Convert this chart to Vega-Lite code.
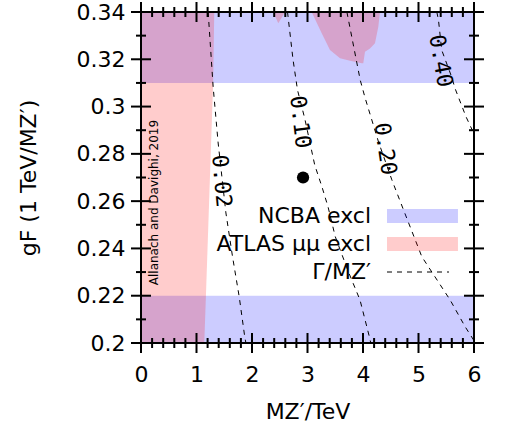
{
  "$schema": "https://vega.github.io/schema/vega-lite/v6.json",
  "width": 333,
  "height": 331,
  "autosize": {"type": "none"},
  "padding": {"left": 141, "top": 12, "right": 31, "bottom": 87},
  "background": "white",
  "config": {"view": {"stroke": null}, "font": "DejaVu Sans"},
  "datasets": {
    "ncba": [
      {"m0": 0, "m1": 6, "g0": 0.31, "g1": 0.34},
      {"m0": 0, "m1": 6, "g0": 0.2, "g1": 0.22}
    ],
    "atlas": [
      {"g": 0.2, "m": 1.14},
      {"g": 0.22, "m": 1.17},
      {"g": 0.31, "m": 1.30},
      {"g": 0.34, "m": 1.32}
    ],
    "blobs": [
      {"blob": "a", "m": 2.38, "g": 0.34},
      {"blob": "a", "m": 2.474, "g": 0.3352},
      {"blob": "a", "m": 2.595, "g": 0.34},
      {"blob": "b", "m": 3.075, "g": 0.34},
      {"blob": "b", "m": 3.256, "g": 0.331},
      {"blob": "b", "m": 3.405, "g": 0.3239},
      {"blob": "b", "m": 3.586, "g": 0.3204},
      {"blob": "b", "m": 3.766, "g": 0.3194},
      {"blob": "b", "m": 3.977, "g": 0.3183},
      {"blob": "b", "m": 4.005, "g": 0.3183},
      {"blob": "b", "m": 4.036, "g": 0.3232},
      {"blob": "b", "m": 4.126, "g": 0.3246},
      {"blob": "b", "m": 4.216, "g": 0.3268},
      {"blob": "b", "m": 4.276, "g": 0.3338},
      {"blob": "b", "m": 4.306, "g": 0.34}
    ],
    "contours": [
      {"level": "0.02", "m": 1.21, "g": 0.34},
      {"level": "0.02", "m": 1.30, "g": 0.3083},
      {"level": "0.02", "m": 1.39, "g": 0.2846},
      {"level": "0.02", "m": 1.53, "g": 0.255},
      {"level": "0.02", "m": 1.65, "g": 0.2364},
      {"level": "0.02", "m": 1.77, "g": 0.2195},
      {"level": "0.02", "m": 1.87, "g": 0.2025},
      {"level": "0.02", "m": 1.89, "g": 0.2},
      {"level": "0.10", "m": 2.64, "g": 0.34},
      {"level": "0.10", "m": 2.74, "g": 0.3197},
      {"level": "0.10", "m": 2.82, "g": 0.307},
      {"level": "0.10", "m": 2.95, "g": 0.295},
      {"level": "0.10", "m": 3.13, "g": 0.2753},
      {"level": "0.10", "m": 3.26, "g": 0.2661},
      {"level": "0.10", "m": 3.37, "g": 0.2576},
      {"level": "0.10", "m": 3.5, "g": 0.245},
      {"level": "0.10", "m": 3.73, "g": 0.2305},
      {"level": "0.10", "m": 3.946, "g": 0.2182},
      {"level": "0.10", "m": 4.114, "g": 0.2027},
      {"level": "0.10", "m": 4.14, "g": 0.2},
      {"level": "0.20", "m": 3.71, "g": 0.34},
      {"level": "0.20", "m": 3.95, "g": 0.3112},
      {"level": "0.20", "m": 4.04, "g": 0.3035},
      {"level": "0.20", "m": 4.28, "g": 0.285},
      {"level": "0.20", "m": 4.52, "g": 0.269},
      {"level": "0.20", "m": 4.73, "g": 0.2563},
      {"level": "0.20", "m": 5.06, "g": 0.2365},
      {"level": "0.20", "m": 5.57, "g": 0.2182},
      {"level": "0.20", "m": 5.84, "g": 0.2069},
      {"level": "0.20", "m": 6.0, "g": 0.201},
      {"level": "0.40", "m": 5.33, "g": 0.34},
      {"level": "0.40", "m": 5.36, "g": 0.3366},
      {"level": "0.40", "m": 5.418, "g": 0.3239},
      {"level": "0.40", "m": 5.598, "g": 0.3125},
      {"level": "0.40", "m": 5.658, "g": 0.3077},
      {"level": "0.40", "m": 5.856, "g": 0.2957},
      {"level": "0.40", "m": 6.0, "g": 0.2885}
    ],
    "bp": [{"m": 2.92, "g": 0.27}],
    "clabels": [
      {"label": "0.02", "m": 1.45, "g": 0.2685},
      {"label": "0.10", "m": 2.87, "g": 0.2935},
      {"label": "0.20", "m": 4.40, "g": 0.2821},
      {"label": "0.40", "m": 5.40, "g": 0.3193}
    ],
    "notes": [{"m": 0.238, "g": 0.2594, "t": "Allanach and Davighi, 2019"}],
    "xt": [
      {"v": 0, "k": "major"}, {"v": 0.2, "k": "minor"}, {"v": 0.4, "k": "minor"}, {"v": 0.6, "k": "minor"}, {"v": 0.8, "k": "minor"},
      {"v": 1, "k": "major"}, {"v": 1.2, "k": "minor"}, {"v": 1.4, "k": "minor"}, {"v": 1.6, "k": "minor"}, {"v": 1.8, "k": "minor"},
      {"v": 2, "k": "major"}, {"v": 2.2, "k": "minor"}, {"v": 2.4, "k": "minor"}, {"v": 2.6, "k": "minor"}, {"v": 2.8, "k": "minor"},
      {"v": 3, "k": "major"}, {"v": 3.2, "k": "minor"}, {"v": 3.4, "k": "minor"}, {"v": 3.6, "k": "minor"}, {"v": 3.8, "k": "minor"},
      {"v": 4, "k": "major"}, {"v": 4.2, "k": "minor"}, {"v": 4.4, "k": "minor"}, {"v": 4.6, "k": "minor"}, {"v": 4.8, "k": "minor"},
      {"v": 5, "k": "major"}, {"v": 5.2, "k": "minor"}, {"v": 5.4, "k": "minor"}, {"v": 5.6, "k": "minor"}, {"v": 5.8, "k": "minor"},
      {"v": 6, "k": "major"}
    ],
    "yt": [
      {"v": 0.2, "k": "major"}, {"v": 0.21, "k": "minor"}, {"v": 0.22, "k": "major"}, {"v": 0.23, "k": "minor"},
      {"v": 0.24, "k": "major"}, {"v": 0.25, "k": "minor"}, {"v": 0.26, "k": "major"}, {"v": 0.27, "k": "minor"},
      {"v": 0.28, "k": "major"}, {"v": 0.29, "k": "minor"}, {"v": 0.3, "k": "major"}, {"v": 0.31, "k": "minor"},
      {"v": 0.32, "k": "major"}, {"v": 0.33, "k": "minor"}, {"v": 0.34, "k": "major"}
    ],
    "frame": [{"m0": 0, "m1": 6, "g0": 0.2, "g1": 0.34}]
  },
  "resolve": {"axis": {"x": "independent", "y": "independent"}},
  "layer": [
    {
      "data": {"name": "ncba"},
      "mark": {"type": "rect", "opacity": 1},
      "encoding": {
        "x": {
          "field": "m0", "type": "quantitative",
          "scale": {"domain": [0, 6], "nice": false, "zero": false},
          "axis": {
            "orient": "bottom", "domain": false, "ticks": false,
            "values": [0, 1, 2, 3, 4, 5, 6],
            "format": "~g",
            "labelFont": "DejaVu Sans", "labelFontSize": 22, "labelColor": "black",
            "labelPadding": 21, "labelOverlap": false, "labelFlush": false,
            "title": "MZ′/TeV", "titleFont": "DejaVu Sans", "titleFontSize": 22,
            "titleFontWeight": "normal", "titleColor": "black", "titlePadding": 16,
            "grid": false
          }
        },
        "x2": {"field": "m1"},
        "y": {
          "field": "g0", "type": "quantitative",
          "scale": {"domain": [0.2, 0.34], "nice": false, "zero": false},
          "axis": {
            "orient": "left", "domain": false, "ticks": false,
            "values": [0.2, 0.22, 0.24, 0.26, 0.28, 0.3, 0.32, 0.34],
            "format": ".2~f",
            "labelFont": "DejaVu Sans", "labelFontSize": 22, "labelColor": "black",
            "labelPadding": 16, "labelOverlap": false, "labelFlush": false,
            "title": "gF (1 TeV/MZ′)", "titleFont": "DejaVu Sans", "titleFontSize": 22,
            "titleFontWeight": "normal", "titleColor": "black", "titlePadding": 36,
            "grid": false
          }
        },
        "y2": {"field": "g1"},
        "color": {
          "datum": "NCBA excl", "type": "nominal",
          "scale": {
            "domain": ["NCBA excl", "ATLAS μμ excl", "Γ/MZ′"],
            "range": ["rgba(0,0,255,0.2)", "rgba(255,0,0,0.2)", "black"]
          },
          "legend": {
            "orient": "none", "legendX": 242, "legendY": 193,
            "direction": "vertical", "title": null, "padding": 0,
            "labelFont": "DejaVu Sans", "labelFontSize": 22, "labelColor": "black",
            "labelAlign": "right", "labelOffset": -34, "labelLimit": 300,
            "symbolSize": 196, "rowPadding": 6, "symbolOpacity": 1, "symbolStrokeWidth": 1,
            "encode": {
              "symbols": {
                "update": {
                  "shape": {"signal": "datum.value === 'NCBA excl' || datum.value === 'ATLAS μμ excl' ? 'M-1,-1H9.14V1H-1Z' : 'M-1,0H7.86'"},
                  "fill": {"signal": "datum.value === 'NCBA excl' ? 'rgba(0,0,255,0.2)' : datum.value === 'ATLAS μμ excl' ? 'rgba(255,0,0,0.2)' : null"},
                  "stroke": {"signal": "datum.value === 'NCBA excl' || datum.value === 'ATLAS μμ excl' ? null : 'black'"},
                  "strokeDash": {"signal": "datum.value === 'NCBA excl' || datum.value === 'ATLAS μμ excl' ? [] : [5, 5]"},
                  "strokeWidth": {"signal": "datum.value === 'NCBA excl' || datum.value === 'ATLAS μμ excl' ? 0 : 1"},
                  "opacity": {"value": 1}
                }
              }
            }
          }
        }
      }
    },
    {
      "data": {"name": "atlas"},
      "mark": {"type": "area", "orient": "horizontal", "opacity": 1},
      "encoding": {
        "y": {"field": "g", "type": "quantitative", "scale": {"domain": [0.2, 0.34], "nice": false, "zero": false}, "axis": null},
        "x": {"field": "m", "type": "quantitative", "stack": null, "scale": {"domain": [0, 6], "nice": false, "zero": false}, "axis": null},
        "x2": {"datum": 0},
        "color": {"datum": "ATLAS μμ excl", "type": "nominal"}
      }
    },
    {
      "data": {"name": "blobs"},
      "mark": {"type": "area", "opacity": 1},
      "encoding": {
        "x": {"field": "m", "type": "quantitative", "scale": {"domain": [0, 6], "nice": false, "zero": false}, "axis": null},
        "y": {"field": "g", "type": "quantitative", "stack": null, "scale": {"domain": [0.2, 0.34], "nice": false, "zero": false}, "axis": null},
        "y2": {"datum": 0.34},
        "detail": {"field": "blob", "type": "nominal"},
        "color": {"datum": "ATLAS μμ excl", "type": "nominal"}
      }
    },
    {
      "data": {"name": "contours"},
      "mark": {"type": "line", "strokeDash": [5, 5], "strokeWidth": 1, "clip": true},
      "encoding": {
        "x": {"field": "m", "type": "quantitative", "scale": {"domain": [0, 6], "nice": false, "zero": false}, "axis": null},
        "y": {"field": "g", "type": "quantitative", "scale": {"domain": [0.2, 0.34], "nice": false, "zero": false}, "axis": null},
        "detail": {"field": "level", "type": "nominal"},
        "color": {"datum": "Γ/MZ′", "type": "nominal"}
      }
    },
    {
      "data": {"name": "xt"},
      "mark": {"type": "tick", "orient": "vertical", "thickness": 2, "color": "#000000", "opacity": 1},
      "encoding": {
        "x": {"field": "v", "type": "quantitative", "scale": {"domain": [0, 6], "nice": false, "zero": false}, "axis": null},
        "y": {"datum": 0.2, "type": "quantitative", "scale": {"domain": [0.2, 0.34], "nice": false, "zero": false}, "axis": null},
        "size": {"field": "k", "type": "nominal", "scale": {"domain": ["major", "minor"], "range": [20, 10]}, "legend": null}
      }
    },
    {
      "data": {"name": "xt"},
      "mark": {"type": "tick", "orient": "vertical", "thickness": 2, "color": "#000000", "opacity": 1},
      "encoding": {
        "x": {"field": "v", "type": "quantitative", "scale": {"domain": [0, 6], "nice": false, "zero": false}, "axis": null},
        "y": {"datum": 0.34, "type": "quantitative", "scale": {"domain": [0.2, 0.34], "nice": false, "zero": false}, "axis": null},
        "size": {"field": "k", "type": "nominal", "scale": {"domain": ["major", "minor"], "range": [20, 10]}, "legend": null}
      }
    },
    {
      "data": {"name": "yt"},
      "mark": {"type": "tick", "orient": "horizontal", "thickness": 2, "color": "#000000", "opacity": 1},
      "encoding": {
        "y": {"field": "v", "type": "quantitative", "scale": {"domain": [0.2, 0.34], "nice": false, "zero": false}, "axis": null},
        "x": {"datum": 0, "type": "quantitative", "scale": {"domain": [0, 6], "nice": false, "zero": false}, "axis": null},
        "size": {"field": "k", "type": "nominal", "scale": {"domain": ["major", "minor"], "range": [20, 10]}, "legend": null}
      }
    },
    {
      "data": {"name": "yt"},
      "mark": {"type": "tick", "orient": "horizontal", "thickness": 2, "color": "#000000", "opacity": 1},
      "encoding": {
        "y": {"field": "v", "type": "quantitative", "scale": {"domain": [0.2, 0.34], "nice": false, "zero": false}, "axis": null},
        "x": {"datum": 6, "type": "quantitative", "scale": {"domain": [0, 6], "nice": false, "zero": false}, "axis": null},
        "size": {"field": "k", "type": "nominal", "scale": {"domain": ["major", "minor"], "range": [20, 10]}, "legend": null}
      }
    },
    {
      "data": {"name": "frame"},
      "mark": {"type": "rect", "filled": false, "stroke": "#000000", "strokeWidth": 2, "opacity": 1},
      "encoding": {
        "x": {"field": "m0", "type": "quantitative", "scale": {"domain": [0, 6], "nice": false, "zero": false}, "axis": null},
        "x2": {"field": "m1"},
        "y": {"field": "g0", "type": "quantitative", "scale": {"domain": [0.2, 0.34], "nice": false, "zero": false}, "axis": null},
        "y2": {"field": "g1"}
      }
    },
    {
      "data": {"name": "bp"},
      "mark": {"type": "point", "filled": true, "size": 150, "color": "black", "opacity": 1},
      "encoding": {
        "x": {"field": "m", "type": "quantitative", "scale": {"domain": [0, 6], "nice": false, "zero": false}, "axis": null},
        "y": {"field": "g", "type": "quantitative", "scale": {"domain": [0.2, 0.34], "nice": false, "zero": false}, "axis": null}
      }
    },
    {
      "data": {"name": "clabels"},
      "mark": {"type": "text", "font": "DejaVu Sans Mono", "fontSize": 22, "color": "black", "align": "center", "baseline": "middle"},
      "encoding": {
        "x": {"field": "m", "type": "quantitative", "scale": {"domain": [0, 6], "nice": false, "zero": false}, "axis": null},
        "y": {"field": "g", "type": "quantitative", "scale": {"domain": [0.2, 0.34], "nice": false, "zero": false}, "axis": null},
        "text": {"field": "label", "type": "nominal"},
        "angle": {"field": "label", "type": "ordinal", "scale": {"domain": ["0.02", "0.10", "0.20", "0.40"], "range": [85, 80, 68, 61]}, "legend": null}
      }
    },
    {
      "data": {"name": "notes"},
      "mark": {"type": "text", "font": "DejaVu Sans", "fontSize": 12, "color": "black", "angle": 270, "align": "center", "baseline": "middle"},
      "encoding": {
        "x": {"field": "m", "type": "quantitative", "scale": {"domain": [0, 6], "nice": false, "zero": false}, "axis": null},
        "y": {"field": "g", "type": "quantitative", "scale": {"domain": [0.2, 0.34], "nice": false, "zero": false}, "axis": null},
        "text": {"field": "t", "type": "nominal"}
      }
    }
  ]
}
